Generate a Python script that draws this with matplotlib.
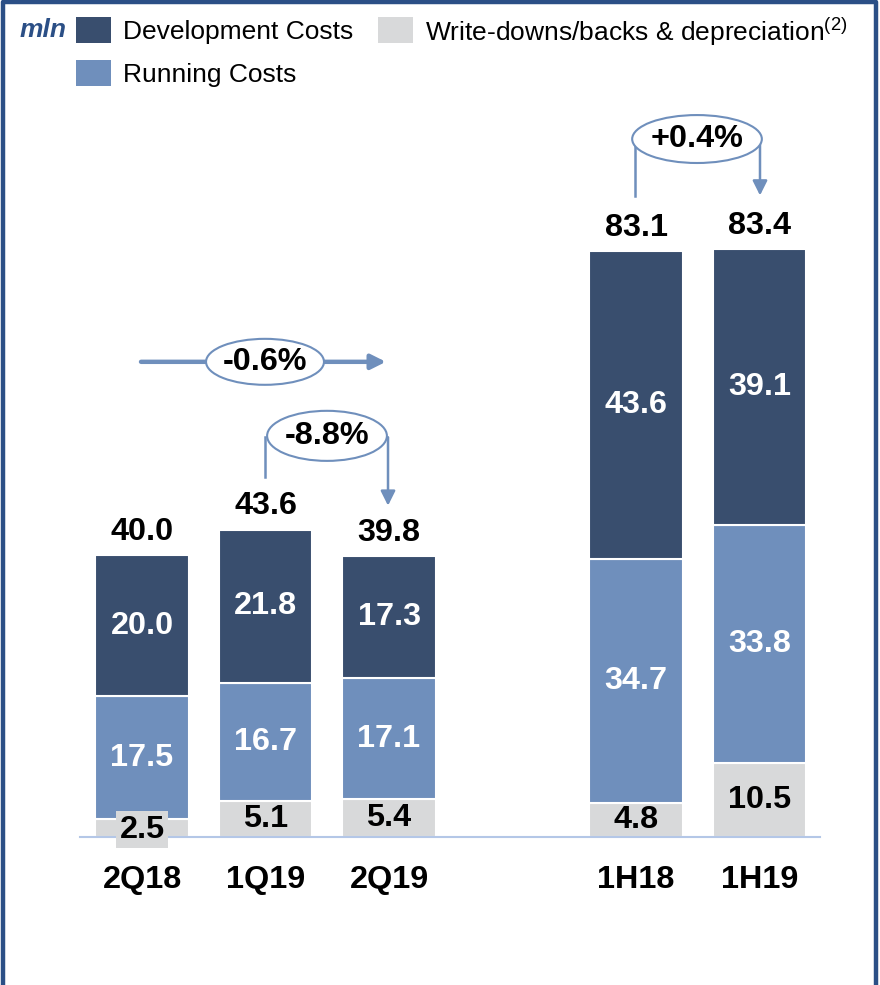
import matplotlib
matplotlib.use("Agg")
import matplotlib.pyplot as plt
from matplotlib.patches import Ellipse, Rectangle
from matplotlib.lines import Line2D

plt.rcParams['font.family'] = ['Liberation Sans', 'DejaVu Sans']
plt.rcParams['mathtext.fontset'] = 'custom'
plt.rcParams['mathtext.rm'] = 'Liberation Sans'

# data (EUR mln)
categories = ["2Q18", "1Q19", "2Q19", "1H18", "1H19"]
positions = [0, 1, 2, 4, 5]
writedowns = [2.5, 5.1, 5.4, 4.8, 10.5]
running = [17.5, 16.7, 17.1, 34.7, 33.8]
development = [20.0, 21.8, 17.3, 43.6, 39.1]
totals = [40.0, 43.6, 39.8, 83.1, 83.4]
changes = ["-0.6%", "-8.8%", "+0.4%"]

DEV_COLOR = "#394e6e"
RUN_COLOR = "#6f8fbc"
WD_COLOR = "#d8d9da"
ARROW_COLOR = "#6f8fbc"
FRAME_COLOR = "#2b4f86"

W, H = 880, 985
fig = plt.figure(figsize=(W / 100, H / 100), dpi=100)
ax = fig.add_axes([0, 0, 1, 1])
ax.set_xlim(-1.1498, 5.9757)
ax.set_ylim(-20.99, 118.72)
ax.axis("off")


def px(x, y):
    # pixel position -> figure fraction
    return x / W, 1 - y / H


bw = 0.76
ax.bar(positions, writedowns, bw, color=WD_COLOR, edgecolor="white", linewidth=1.5, zorder=2)
ax.bar(positions, running, bw, bottom=writedowns, color=RUN_COLOR, edgecolor="white", linewidth=1.5, zorder=2)
bottom_dev = [a + b for a, b in zip(writedowns, running)]
ax.bar(positions, development, bw, bottom=bottom_dev, color=DEV_COLOR, edgecolor="white", linewidth=1.5, zorder=2)

# baseline
ax.plot([-0.502, 5.49], [0, 0], color="#b4c7e7", lw=1.5, zorder=3)

fs = 23.3
for i, x in enumerate(positions):
    # write-downs label
    if i == 0:
        ax.text(x, writedowns[i] / 2 - 0.2, f"{writedowns[i]:.1f}", ha="center", va="center",
                fontsize=fs, fontweight="bold", color="black", zorder=4,
                bbox=dict(boxstyle="square,pad=0.1", facecolor=WD_COLOR, edgecolor="none"))
    else:
        ax.text(x, writedowns[i] / 2, f"{writedowns[i]:.1f}", ha="center", va="center",
                fontsize=fs, fontweight="bold", color="black", zorder=4)
    ax.text(x, writedowns[i] + running[i] / 2, f"{running[i]:.1f}", ha="center", va="center",
            fontsize=fs, fontweight="bold", color="white", zorder=4)
    ax.text(x, bottom_dev[i] + development[i] / 2, f"{development[i]:.1f}", ha="center", va="center",
            fontsize=fs, fontweight="bold", color="white", zorder=4)
    ax.text(x, totals[i] + 3.3, f"{totals[i]:.1f}", ha="center", va="center",
            fontsize=fs, fontweight="bold", color="black", zorder=4)
    ax.text(x, -6.1, categories[i], ha="center", va="center",
            fontsize=fs, fontweight="bold", color="black")

# -0.6% : 2Q19 vs 2Q18
ax.annotate("", xy=(1.975, 67.4), xytext=(-0.008, 67.4),
            arrowprops=dict(arrowstyle="-|>", lw=3.2, color=ARROW_COLOR, mutation_scale=22,
                            shrinkA=0, shrinkB=0), zorder=5)
ax.add_patch(Ellipse((0.996, 67.4), 0.955, 6.52, facecolor="white", edgecolor=ARROW_COLOR, lw=1.5, zorder=6))
ax.text(0.996, 67.4, changes[0], ha="center", va="center", fontsize=fs, fontweight="bold", zorder=7)

# -8.8% : 2Q19 vs 1Q19
ax.plot([0.996, 0.996], [51.1, 56.7], color=ARROW_COLOR, lw=1.8, zorder=5)
ax.annotate("", xy=(1.992, 47.0), xytext=(1.992, 56.7),
            arrowprops=dict(arrowstyle="-|>", lw=1.8, color=ARROW_COLOR, mutation_scale=22,
                            shrinkA=0, shrinkB=0), zorder=5)
ax.add_patch(Ellipse((1.498, 56.9), 0.97, 7.1, facecolor="white", edgecolor=ARROW_COLOR, lw=1.5, zorder=6))
ax.text(1.498, 56.9, changes[1], ha="center", va="center", fontsize=fs, fontweight="bold", zorder=7)

# +0.4% : 1H19 vs 1H18
ax.plot([3.99, 3.99], [90.9, 98.9], color=ARROW_COLOR, lw=1.8, zorder=5)
ax.annotate("", xy=(5.004, 91.0), xytext=(5.004, 98.9),
            arrowprops=dict(arrowstyle="-|>", lw=1.8, color=ARROW_COLOR, mutation_scale=22,
                            shrinkA=0, shrinkB=0), zorder=5)
ax.add_patch(Ellipse((4.494, 99.0), 1.05, 6.8, facecolor="white", edgecolor=ARROW_COLOR, lw=1.5, zorder=6))
ax.text(4.494, 99.0, changes[2], ha="center", va="center", fontsize=fs, fontweight="bold", zorder=7)

# legend drawn by hand
legend_items = [
    ("Development Costs", DEV_COLOR, 76, 17),
    ("Write-downs/backs & depreciation$^{\\mathregular{(2)}}$", WD_COLOR, 378, 17),
    ("Running Costs", RUN_COLOR, 76, 60),
]
for label, color, lx, ly in legend_items:
    x0, y0 = px(lx, ly + 26)
    fig.add_artist(Rectangle((x0, y0), 35 / W, 26 / H, transform=fig.transFigure,
                             facecolor=color, edgecolor="none"))
    tx, ty = px(lx + 47, ly + 15)
    fig.text(tx, ty, label, ha="left", va="center", fontsize=19, color="black")

mx, my = px(20, 30)
fig.text(mx, my, "mln", ha="left", va="center", fontsize=19, fontweight="bold",
         fontstyle="italic", color=FRAME_COLOR)

# frame (left, top, right)
fx0, fy0 = px(2.5, 985)
fx1, fy1 = px(876, 2)
fig.add_artist(Line2D([fx0, fx0, fx1, fx1], [fy0, fy1, fy1, fy0], transform=fig.transFigure,
                      color=FRAME_COLOR, lw=3.2))

fig.savefig("out.png", dpi=100)
